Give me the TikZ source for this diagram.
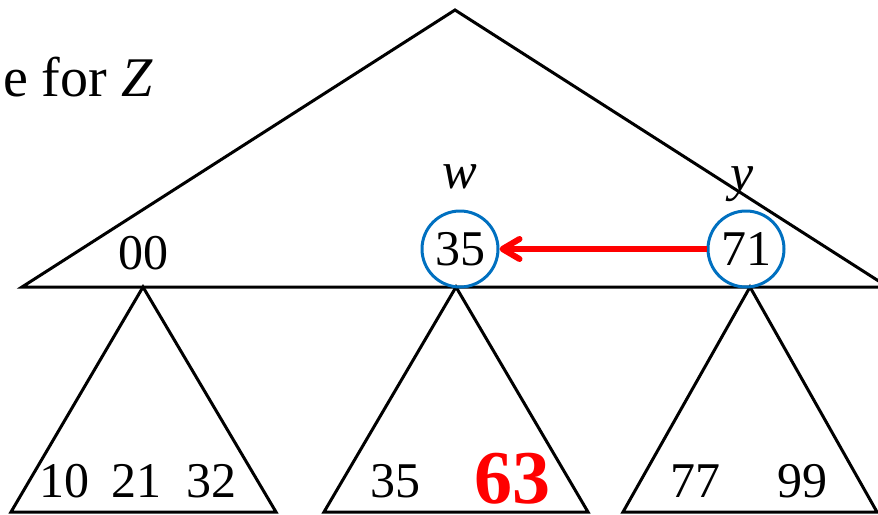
\documentclass[tikz,border=0pt]{standalone}
\usepackage{fontspec}
\setmainfont{Liberation Serif}
\usetikzlibrary{arrows.meta}
\definecolor{cblue}{RGB}{0,112,192}
\definecolor{cred}{RGB}{255,0,0}
\begin{document}
\begin{tikzpicture}[x=1pt,y=-1pt,
  tri/.style={draw=black,line width=3pt,line join=miter},
  keycircle/.style={circle,draw=cblue,line width=3pt,minimum size=76pt,inner sep=0pt},
  num/.style={font=\fontsize{50}{50}\selectfont,inner sep=0pt,anchor=base},
  lab/.style={font=\fontsize{52}{52}\selectfont\itshape,inner sep=0pt,anchor=base}]
\useasboundingbox (0,0) rectangle (878,514);
\begin{scope}
\clip (0,0) rectangle (878,514);
% big triangle
\draw[tri] (22,287) -- (455,10) -- (888,287) -- cycle;
% subtrees
\draw[tri] (143,287) -- (11,512) -- (276,512) -- cycle;
\draw[tri] (456,287) -- (324,512) -- (588,512) -- cycle;
\draw[tri] (750,287) -- (623,512) -- (877,512) -- cycle;
\end{scope}
% title fragment
\node[font=\fontsize{56}{56}\selectfont,inner sep=0pt,anchor=base east] (title) at (153,96) {e for \textit{Z}};
% top keys
\node[num] (k00) at (143,269) {00};
\node[keycircle] (w) at (460,249) {};
\node[num] (k35) at (w.center) [yshift=-16pt] {35};
\node[keycircle] (y) at (746,249) {};
\node[num] (k71) at (y.center) [yshift=-16pt] {71};
\node[lab] (wl) at (460,188) {w};
\node[lab] (yl) at (742,190) {y};
% arrow
\draw[cred,line width=6pt,-{Straight Barb[length=17pt,width=20pt,round]}] (y.west) -- (w.east);
% leaves
\node[num] (l10) at (64,497) {10};
\node[num] (l21) at (136,497) {21};
\node[num] (l32) at (211,497) {32};
\node[num] (l35) at (395,497) {35};
\node[font=\fontsize{76}{76}\selectfont\bfseries,inner sep=0pt,anchor=base,text=cred] (l63) at (512,503) {63};
\node[num] (l77) at (695,497) {77};
\node[num] (l99) at (802,497) {99};
\end{tikzpicture}
\end{document}
